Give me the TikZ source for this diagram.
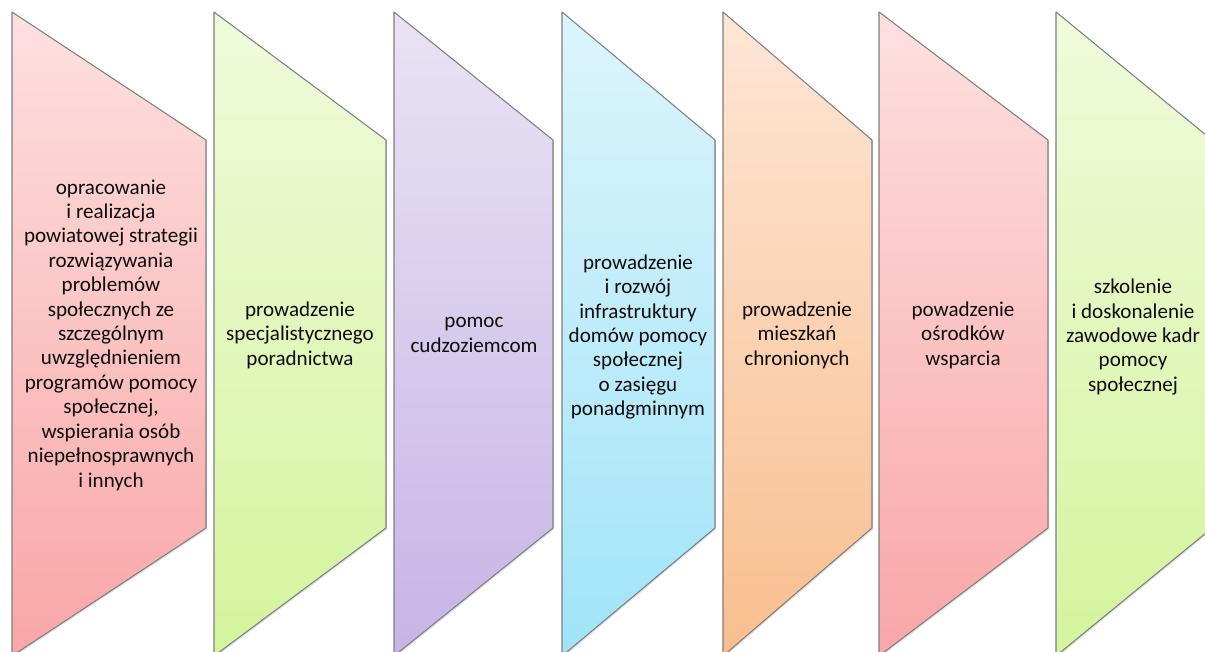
\documentclass[tikz,border=0pt]{standalone}
\usepackage{fontspec}
\setmainfont{Carlito}
\usepackage{tikz}
\usetikzlibrary{shadows}
\definecolor{redtop}{HTML}{FDE0E0}
\definecolor{redbot}{HTML}{F9A6A6}
\definecolor{greentop}{HTML}{F0FADC}
\definecolor{greenbot}{HTML}{D4F49C}
\definecolor{violettop}{HTML}{E9E3F4}
\definecolor{violetbot}{HTML}{C6B4E6}
\definecolor{bluetop}{HTML}{DDF4FC}
\definecolor{bluebot}{HTML}{A0E4F8}
\definecolor{orangetop}{HTML}{FDE6D6}
\definecolor{orangebot}{HTML}{F9BE8E}
\definecolor{edgegray}{HTML}{7F7F7F}
\definecolor{txt}{HTML}{0D0D0D}

\begin{document}
\begin{tikzpicture}[line cap=round,line join=round,x=0.02cm,y=-0.02cm,
  segment/.style={draw=edgegray,line width=0.6pt,
    drop shadow={opacity=0.25,shadow xshift=0.7pt,shadow yshift=-0.7pt}},
  label/.style={align=center,text=txt,font=\fontsize{12}{13.9}\selectfont}]
\clip (0,0) rectangle (1205,652);
\fill[white] (0,0) rectangle (1205,652);
% segments
\draw[segment,top color=redtop,bottom color=redbot] (12,12) -- (206,140) -- (206,528) -- (12,656) -- cycle;
\draw[segment,top color=greentop,bottom color=greenbot] (214,12) -- (386,140) -- (386,528) -- (214,656) -- cycle;
\draw[segment,top color=violettop,bottom color=violetbot] (394,12) -- (553,140) -- (553,528) -- (394,656) -- cycle;
\draw[segment,top color=bluetop,bottom color=bluebot] (562,12) -- (715,140) -- (715,528) -- (562,656) -- cycle;
\draw[segment,top color=orangetop,bottom color=orangebot] (723,12) -- (872,140) -- (872,528) -- (723,656) -- cycle;
\draw[segment,top color=redtop,bottom color=redbot] (879,12) -- (1048,140) -- (1048,528) -- (879,656) -- cycle;
\draw[segment,top color=greentop,bottom color=greenbot] (1056,12) -- (1212,140) -- (1212,528) -- (1056,656) -- cycle;
% labels
\node[label] (strategia) at (111,335) {opracowanie\\i~realizacja\\powiatowej strategii\\rozwiązywania\\problemów\\społecznych ze\\szczególnym\\uwzględnieniem\\programów pomocy\\społecznej,\\wspierania osób\\niepełnosprawnych\\i~innych};
\node[label] (poradnictwo) at (300,335) {prowadzenie\\specjalistycznego\\poradnictwa};
\node[label] (cudzoziemcy) at (474,335) {pomoc\\cudzoziemcom};
\node[label] (domy) at (638,337) {prowadzenie\\i~rozwój\\infrastruktury\\domów pomocy\\społecznej\\o~zasięgu\\ponadgminnym};
\node[label] (mieszkania) at (797,335) {prowadzenie\\mieszkań\\chronionych};
\node[label] (osrodki) at (963,335) {powadzenie\\ośrodków\\wsparcia};
\node[label] (kadry) at (1133,337) {szkolenie\\i~doskonalenie\\zawodowe kadr\\pomocy\\społecznej};
\end{tikzpicture}
\end{document}
